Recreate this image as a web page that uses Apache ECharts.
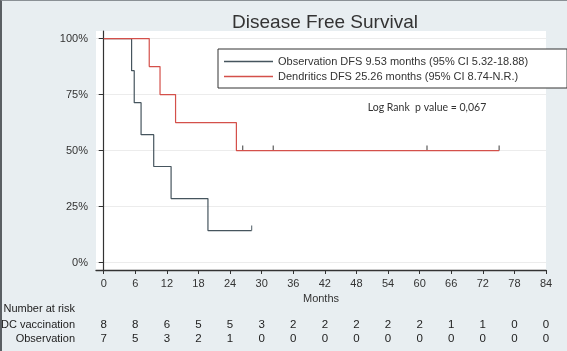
<!DOCTYPE html>
<html>
<head>
<meta charset="utf-8">
<script src="https://cdn.jsdelivr.net/npm/echarts@6/dist/echarts.min.js"></script>
<style>
html,body{margin:0;padding:0;background:#e8eef1;}
#wrap{position:relative;width:567px;height:351px;}
#main{width:567px;height:351px;}
#frame{position:absolute;left:0;top:0;width:567px;height:351px;box-sizing:border-box;border-left:2px solid #5a5f63;border-top:1px solid #8a9095;pointer-events:none;}
</style>
</head>
<body>
<div id="wrap"><div id="main"></div><div id="frame"></div></div>
<script>
// Kaplan-Meier steps [month, % disease free]
var obsSteps = [[0,100],[5.3,85.7],[5.8,71.4],[7.1,57.1],[9.5,42.9],[12.8,28.6],[19.8,14.3],[28.1,14.3]];
var dcSteps = [[0,100],[8.65,87.5],[10.7,75],[13.65,62.5],[25.2,50],[75.1,50]];
var obsCensor = [[28.1,14.3]];
var dcCensor = [[26.4,50],[32.2,50],[61.4,50],[75.1,50]];

var monthTicks = [0,6,12,18,24,30,36,42,48,54,60,66,72,78,84];
var pctTicks = [0,25,50,75,100];
var dcRisk = [8,8,6,5,5,3,2,2,2,2,2,1,1,0,0];
var obsRisk = [7,5,3,2,1,0,0,0,0,0,0,0,0,0,0];

var obsName = 'Observation DFS 9.53 months (95% CI 5.32-18.88)';
var dcName = 'Dendritics DFS 25.26 months (95% CI 8.74-N.R.)';

var obsColor = '#46555e';
var dcColor = '#d4504a';
var font = 'Liberation Sans, Arial, sans-serif';

function riskAxis(arr, off){
	return {
		type : 'value',
		gridIndex : 0,
		position : 'bottom',
		min : -1.46,
		max : 84,
		offset : off,
		axisLine : { show : false },
		axisTick : { show : false },
		splitLine : { show : false },
		axisLabel : {
			customValues : monthTicks,
			margin : 0,
			color : '#222',
			fontSize : 11.5,
			fontFamily : font,
			formatter : function(v){
				var i = monthTicks.indexOf(Math.round(v));
				return i < 0 ? '' : String(arr[i]);
			}
		}
	};
}

var myChart = echarts.init(document.getElementById('main'));
var option = {
	animation : false,
	backgroundColor : '#e8eef1',
	title : {
		text : 'Disease Free Survival',
		left : 320,
		top : 8,
		textAlign : 'center',
		textStyle : { color : '#333', fontSize : 19, fontWeight : 'normal', fontFamily : font }
	},
	legend : {
		data : [obsName, dcName],
		orient : 'vertical',
		left : 218,
		top : 49,
		padding : [7, 39, 6, 6],
		itemWidth : 49,
		itemHeight : 1.5,
		itemGap : 4,
		icon : 'rect',
		borderColor : '#333',
		borderWidth : 1,
		backgroundColor : '#fff',
		textStyle : { color : '#333', fontSize : 11, fontFamily : font }
	},
	graphic : [
		{ type : 'text', x : 427, y : 108, style : { text : 'Log Rank  p value = 0,067', fill : '#333', font : '10.5px Lato, sans-serif', textAlign : 'center', textVerticalAlign : 'middle' } },
		{ type : 'text', x : 75, y : 309, style : { text : 'Number at risk', fill : '#222', font : '11px ' + font, textAlign : 'right', textVerticalAlign : 'middle' } },
		{ type : 'text', x : 75, y : 325, style : { text : 'DC vaccination', fill : '#222', font : '11px ' + font, textAlign : 'right', textVerticalAlign : 'middle' } },
		{ type : 'text', x : 75, y : 339, style : { text : 'Observation', fill : '#222', font : '11px ' + font, textAlign : 'right', textVerticalAlign : 'middle' } }
	],
	grid : {
		left : 96,
		right : 21,
		top : 31,
		bottom : 81,
		show : true,
		backgroundColor : '#fff',
		borderWidth : 0
	},
	xAxis : [{
		type : 'value',
		min : -1.46,
		max : 84,
		name : 'Months',
		nameLocation : 'middle',
		nameGap : 15,
		nameTextStyle : { color : '#333', fontSize : 11, fontFamily : font },
		axisLine : { onZero : false, lineStyle : { color : '#333', width : 1.3 } },
		axisTick : { customValues : monthTicks, length : 4, lineStyle : { color : '#333' } },
		axisLabel : { customValues : monthTicks, margin : 8, color : '#333', fontSize : 11, fontFamily : font },
		splitLine : { show : false }
	}, riskAxis(dcRisk, 49), riskAxis(obsRisk, 63)],
	yAxis : [{
		type : 'value',
		min : -3.3,
		max : 103.4,
		axisLine : { show : true, lineStyle : { color : '#333', width : 1.2 } },
		axisTick : { show : true, customValues : pctTicks, length : 5, lineStyle : { color : '#333' } },
		axisLabel : { customValues : pctTicks, margin : 8, color : '#333', fontSize : 11, fontFamily : font,
			formatter : function(v){ return v + '%'; } },
		splitLine : { show : true, lineStyle : { color : '#ececec', width : 1 } }
	}],
	series : [{
		name : obsName,
		type : 'line',
		step : 'end',
		symbol : 'none',
		data : obsSteps,
		lineStyle : { color : obsColor, width : 1.2 },
		itemStyle : { color : obsColor }
	},{
		name : dcName,
		type : 'line',
		step : 'end',
		symbol : 'none',
		data : dcSteps,
		lineStyle : { color : dcColor, width : 1.2 },
		itemStyle : { color : dcColor }
	},{
		name : 'obsCensor',
		type : 'scatter',
		symbol : 'rect',
		symbolSize : [1.2, 5],
		symbolOffset : [0, -2.5],
		data : obsCensor,
		itemStyle : { color : obsColor }
	},{
		name : 'dcCensor',
		type : 'scatter',
		symbol : 'rect',
		symbolSize : [1.2, 5],
		symbolOffset : [0, -2.5],
		data : dcCensor,
		itemStyle : { color : '#333' }
	}]
};
myChart.setOption(option);
</script>
</body>
</html>
